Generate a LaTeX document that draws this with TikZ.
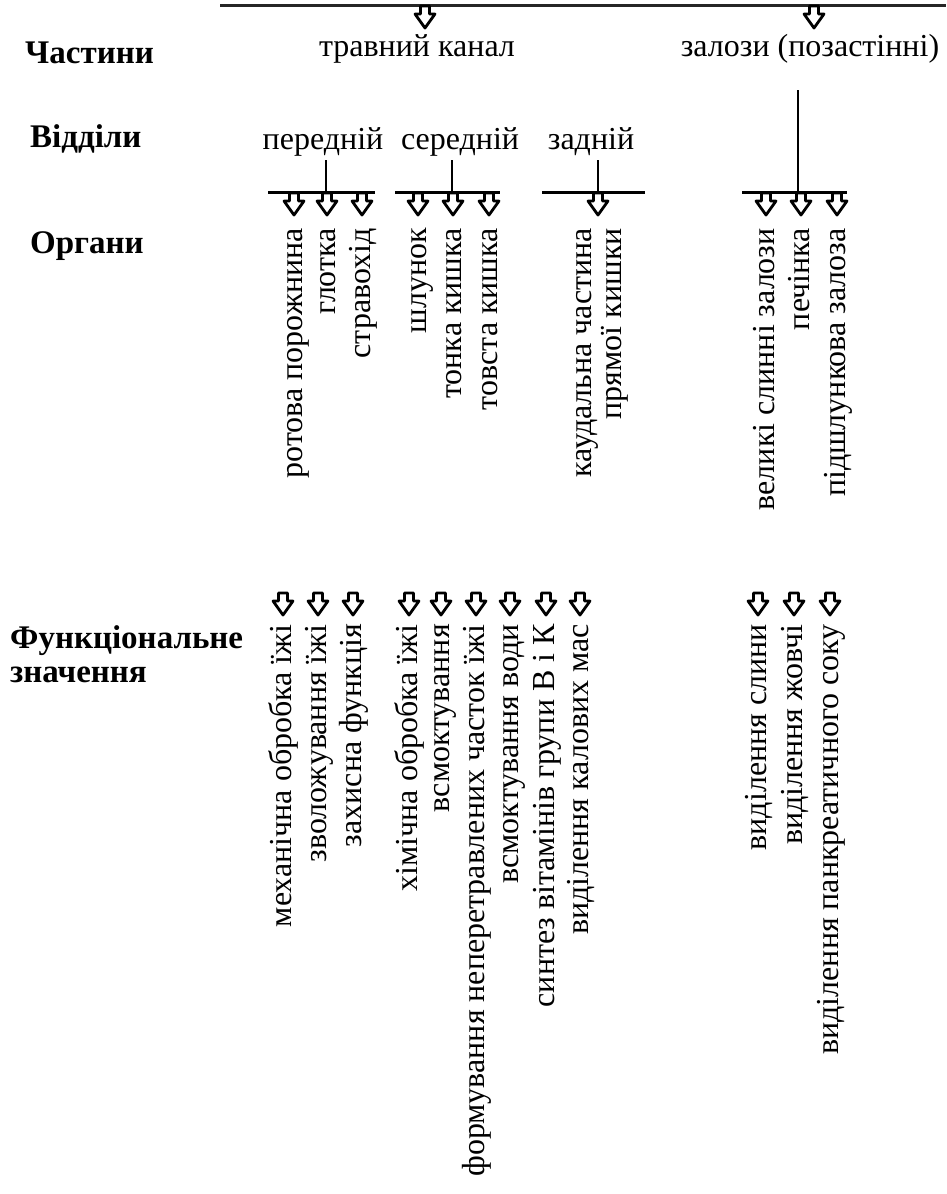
\documentclass[tikz,border=0pt]{standalone}
\usepackage{fontspec}
\setmainfont{Liberation Serif}
\tikzset{
  lbl/.style={font=\fontsize{32}{36}\selectfont, inner sep=0pt},
  hdr/.style={font=\fontsize{33}{36}\selectfont\bfseries, inner sep=0pt, anchor=base west},
  vt/.style={lbl, rotate=90, anchor=east, text height=23pt, text depth=6pt},
  barline/.style={line width=3pt},
  stemline/.style={line width=2pt},
  toprule/.style={line width=3pt, black!85},
  barrow/.pic={\draw[line width=2.8pt, line join=round, fill=white]
     (-4.5,0) -- (4.5,0) -- (4.5,8) -- (10,8) -- (0,22) -- (-10,8) -- (-4.5,8) -- cycle;}
}
\begin{document}
\begin{tikzpicture}[x=1pt,y=-1pt]
\useasboundingbox (0,0) rectangle (946,1194);

% headers
\node[hdr] (h1) at (25,63) {Частини};
\node[hdr] (h2) at (30,147) {Відділи};
\node[hdr] (h3) at (30,253) {Органи};
\node[hdr] (h4) at (10,648) {Функціональне};
\node[hdr] (h5) at (10,682) {значення};

% top line
\coordinate (tl) at (220,5);
\coordinate (tr) at (946,5);
\draw[toprule] (tl) -- (tr);
\pic at (425,6) {barrow};
\pic at (814,6) {barrow};
\node[lbl, anchor=base] (trakt) at (417,56) {травний канал};
\node[lbl, anchor=base] (zal) at (810,56) {залози (позастінні)};

% sections
\node[lbl, anchor=base] (per) at (323,149) {передній};
\node[lbl, anchor=base] (ser) at (460,149) {середній};
\node[lbl, anchor=base] (zad) at (591,149) {задній};

\coordinate (perj) at (326,192);
\coordinate (serj) at (452,192);
\coordinate (zadj) at (598,192);
\coordinate (zalj) at (798,192);
\coordinate (zalt) at (798,90);

\draw[stemline] (perj |- 0,160) -- (perj);
\draw[stemline] (serj |- 0,160) -- (serj);
\draw[stemline] (zadj |- 0,160) -- (zadj);
\draw[stemline] (zalt) -- (zalj);

\coordinate (perl) at (268,192); \coordinate (perr) at (375,192);
\coordinate (serl) at (395,192); \coordinate (serr) at (500,192);
\coordinate (zadl) at (542,192); \coordinate (zadr) at (645,192);
\coordinate (zall) at (742,192); \coordinate (zalr) at (847,192);
\draw[barline] (perl) -- (perr);
\draw[barline] (serl) -- (serr);
\draw[barline] (zadl) -- (zadr);
\draw[barline] (zall) -- (zalr);

% organ arrows
\foreach \x in {294,327,362,418,453,489,598,766,801,837}
  \pic at (\x,193) {barrow};

% organs
\node[vt] (o1) at (294,228) {ротова порожнина};
\node[vt] (o2) at (327,228) {глотка};
\node[vt] (o3) at (362,228) {стравохід};
\node[vt] (o4) at (418,228) {шлунок};
\node[vt] (o5) at (453,228) {тонка кишка};
\node[vt] (o6) at (489,228) {товста кишка};
\node[vt] (o7) at (583,228) {каудальна частина};
\node[vt] (o8) at (613,228) {прямої кишки};
\node[vt] (o9) at (766,228) {великі слинні залози};
\node[vt] (o10) at (801,228) {печінка};
\node[vt] (o11) at (837,228) {підшлункова залоза};

% function arrows
\foreach \x in {283,318,353,409,441,476,510,546,580,758,794,830}
  \pic at (\x,593) {barrow};

% functions
\node[vt] (f1) at (283,624) {механічна обробка їжі};
\node[vt] (f2) at (318,624) {зволожування їжі};
\node[vt] (f3) at (353,624) {захисна функція};
\node[vt] (f4) at (409,624) {хімічна обробка їжі};
\node[vt] (f5) at (441,624) {всмоктування};
\node[vt] (f6) at (476,624) {формування неперетравлених часток їжі};
\node[vt] (f7) at (510,624) {всмоктування води};
\node[vt] (f8) at (546,624) {синтез вітамінів групи В і К};
\node[vt] (f9) at (580,624) {виділення калових мас};
\node[vt] (f10) at (758,624) {виділення слини};
\node[vt] (f11) at (794,624) {виділення жовчі};
\node[vt] (f12) at (830,624) {виділення панкреатичного соку};
\end{tikzpicture}
\end{document}
